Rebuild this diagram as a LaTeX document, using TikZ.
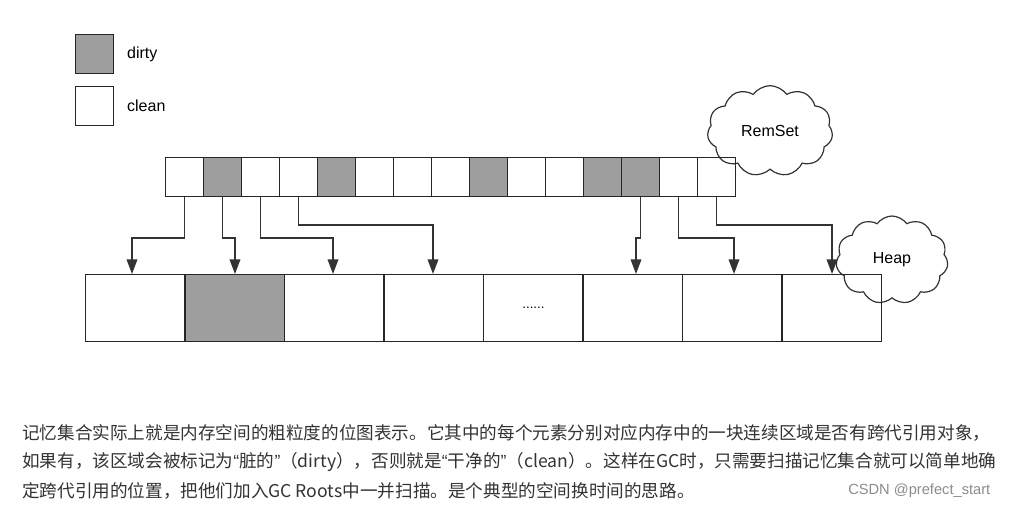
\documentclass[tikz,border=0pt]{standalone}
\usepackage{fontspec}
\setmainfont{Liberation Sans}
\newfontfamily\cjk{Noto Sans CJK SC}
\newcommand\myLq{{\rmfamily “}}
\newcommand\myRq{{\rmfamily ”}}
\usetikzlibrary{shapes.symbols,arrows.meta}
\begin{document}
\begin{tikzpicture}[x=0.75pt,y=-0.75pt,
  cellbox/.style={draw=black!85,line width=1.1pt},
  conn/.style={draw=black!80,line width=1.1pt,-{Triangle[length=11pt,width=8pt]}},
  cloudbox/.style={cloud,cloud puffs=11,cloud puff arc=110,aspect=1.4,draw=black!80,line width=0.9pt,fill=white,font=\fontsize{12}{14}\selectfont},
  para/.style={anchor=west,font=\cjk\fontsize{13.2}{15}\selectfont,text=black!80,inner sep=0}]
\useasboundingbox[fill=white] (0,0) rectangle (1009,511);
% legend
\node[cellbox,fill=black!38,minimum width=28.5pt,minimum height=29pt,inner sep=0,anchor=north west] (ld) at (75,34) {};
\node[cellbox,minimum width=28.5pt,minimum height=29pt,inner sep=0,anchor=north west] (lc) at (75,86) {};
\node[anchor=west,font=\fontsize{12}{14}\selectfont] at ([xshift=6pt]ld.east) {dirty};
\node[anchor=west,font=\fontsize{12}{14}\selectfont] at ([xshift=6pt]lc.east) {clean};
% clouds
\node[cloudbox,minimum width=94pt,minimum height=68pt] (rem) at (770,131) {RemSet};
\node[cloudbox,minimum width=84pt,minimum height=66pt] (heap) at (892,260) {Heap};
% strip fills
\foreach \i in {1,4,8,11,12}{\fill[black!38] (165+38*\i,157) rectangle ++(38,38.7);}
\fill[black!38] (184.5,274) rectangle ++(99.5,66.7);
% strip
\foreach \i in {0,...,14}{
  \pgfmathsetmacro\xx{165+38*\i}
  \node[cellbox,minimum width=28.5pt,minimum height=29pt,inner sep=0,anchor=north west] (s\i) at (\xx,157) {};
}
% heap row
\foreach \i in {0,...,7}{
  \pgfmathsetmacro\xx{85+99.5*\i}
  \node[cellbox,minimum width=74.6pt,minimum height=50pt,inner sep=0,anchor=north west] (h\i) at (\xx,274) {};
}
\node[font=\fontsize{10}{12}\selectfont] at (h4) {......};
% connectors
\draw[conn] (s0.south) |- ++(0,41) -| (132,274);
\draw[conn] (s1.south) |- ++(0,41) -| (h1.north);
\draw[conn] (s2.south) |- ++(0,41) -| (333,274);
\draw[conn] (s3.south) |- ++(0,28) -| (433,274);
\draw[conn] (s12.south) |- ++(0,41) -| (636,274);
\draw[conn] (s13.south) |- ++(0,41) -| (734,274);
\draw[conn] (s14.south) |- ++(0,28) -| (832,274);
% paragraph
\node[para] at (22,433) {记忆集合实际上就是内存空间的粗粒度的位图表示。它其中的每个元素分别对应内存中的一块连续区域是否有跨代引用对象，};
\node[para] at (22,462) {如果有，该区域会被标记为\myLq 脏的\myRq （dirty），否则就是\myLq 干净的\myRq （clean）。这样在GC时，只需要扫描记忆集合就可以简单地确};
\node[para] at (22,491) {定跨代引用的位置，把他们加入GC Roots中一并扫描。是个典型的空间换时间的思路。};
\node[anchor=east,font=\fontsize{11}{13}\selectfont,text=black!45] at (995,491) {CSDN @prefect\_start};
\end{tikzpicture}
\end{document}
